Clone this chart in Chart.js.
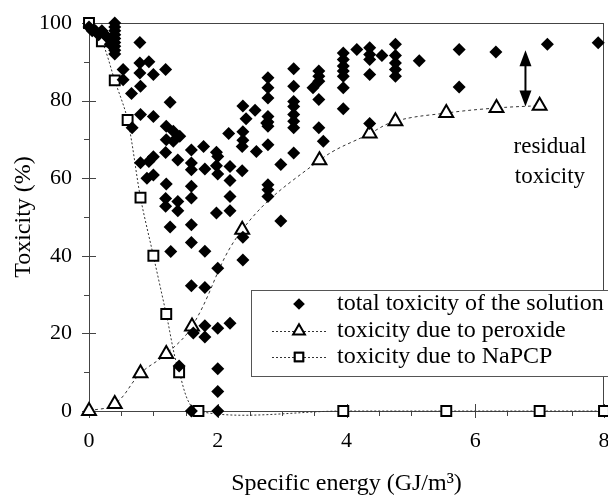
<!DOCTYPE html>
<html><head><meta charset="utf-8">
<script src="https://cdn.jsdelivr.net/npm/chart.js@4/dist/chart.umd.min.js"></script>
<style>html,body{margin:0;padding:0;background:#fff;overflow:hidden}#wrap{width:608px;height:498px;position:relative;overflow:hidden}</style>
</head><body><div id="wrap"><canvas id="c" width="614" height="498"></canvas></div>
<script>
// total toxicity of the solution (diamonds)
const totalX = [0,0.05,0.1,0.15,0.2,0.25,0.3,0.33,0.4,0.4,0.4,0.4,0.4,0.4,0.4,0.4,0.4,
  0.53,0.53,0.66,0.67,0.79,0.79,0.79,0.8,0.8,0.8,
  0.93,1.0,1.0,0.93,1.0,0.9,1.0,
  1.19,1.26,1.2,1.31,1.41,1.2,1.31,1.19,1.2,1.19,1.19,1.38,1.38,1.38,1.26,1.27,1.4,
  1.59,1.59,1.59,1.59,1.59,1.59,1.59,1.59,1.62,1.59,
  1.78,1.8,1.8,1.8,1.8,1.8,
  1.98,2.0,1.98,2.0,1.98,2.0,2.0,2.0,2.0,2.0,
  2.17,2.19,2.19,2.19,2.19,2.19,
  2.39,2.44,2.39,2.39,2.38,2.38,2.39,2.39,
  2.58,2.6,2.76,
  2.78,2.78,2.78,2.78,2.78,2.78,2.78,2.78,2.78,2.78,
  2.98,2.98,
  3.18,3.18,3.18,3.18,3.18,3.18,3.18,3.18,
  3.57,3.57,3.57,3.48,3.57,3.57,3.64,
  3.95,3.95,3.95,3.95,3.95,3.95,3.95,
  4.16,4.36,4.36,4.36,4.36,4.36,4.55,
  4.76,4.76,4.76,4.76,4.76,
  5.13,5.75,5.75,6.32,7.12,7.91];
const totalY = [99,98,98,97,98,97,96,94.5,100,99,98,97,96,95,94,93,92,
  88,85.4,81.8,73,95,89.7,87.1,83.7,76.4,64,
  90,86.7,75.9,64.3,65.5,60,60.8,
  88,79.6,73.4,72.1,70.8,69.9,69.5,66.6,58.5,54.8,52.8,64.7,54,51.6,47.4,41.1,11.6,
  67.3,63.9,62.2,57.9,54.9,48,43.4,32.3,20.1,0,
  68.2,62.4,41.2,31.8,22,19.1,
  66.7,65.6,63.2,61.1,51,36.8,21.3,10.9,5,0,
  71.5,63,59.4,55.3,51.6,22.6,
  78.6,75.3,72,69.8,68.2,61.9,44.8,38.9,
  77.5,66.9,74.2,
  85.9,83.3,80.7,75.9,74.5,73.4,68.6,58.3,57,55.3,
  63.5,49,
  88.2,83.7,79.8,78.5,76.4,74.7,73,66.5,
  87.6,86.3,85,83.3,80.3,73,69.5,
  92.3,90.6,88.9,87.6,86.3,83.3,77.9,
  93.2,93.6,91.9,90.6,86.7,74.1,91.6,
  94.5,91.6,89.7,88,86.3,
  90.3,93.2,83.5,92.5,94.5,94.9];
// toxicity due to peroxide (triangles)
const peroxideX = [0,0.4,0.8,1.2,1.6,2.38,3.58,4.36,4.76,5.55,6.33,7.0];
const peroxideY = [0,1.8,9.7,14.7,21.8,46.7,64.6,71.5,74.7,76.8,78.1,78.7];
// toxicity due to NaPCP (squares)
const napcpX = [0,0.2,0.4,0.6,0.8,1.0,1.2,1.4,1.7,3.95,5.55,7.0,8.0];
const napcpY = [100,95.3,85.2,75,55,40,25,10,0,0,0,0,0];

const xTickLabels = [0,2,4,6,8];
const yTickLabels = [0,20,40,60,80,100];
const seriesNames = ['total toxicity of the solution','toxicity due to peroxide','toxicity due to NaPCP'];
const noteLines = ['residual','toxicity'];
const arrowX = 6.78, arrowTop = 93, arrowBottom = 78.5;

const FONT = "'Liberation Serif','Times New Roman',serif";
const toPts = (xs, ys) => xs.map((x, i) => ({x, y: ys[i]}));

const framePlugin = {
  id: 'frame',
  beforeDatasetsDraw(chart) {
    const {ctx, chartArea: a, scales: {x, y}} = chart;
    ctx.save();
    ctx.strokeStyle = '#444';
    ctx.lineWidth = 1;
    ctx.strokeRect(Math.round(a.left) + 0.5, Math.round(a.top) + 0.5, Math.round(a.right - a.left) - 1, Math.round(a.bottom - a.top));
    ctx.beginPath();
    for (let v = 0; v <= 100; v += 10) {
      const py = Math.round(y.getPixelForValue(v)) + 0.5;
      const major = v % 20 === 0;
      ctx.moveTo(a.left - (major ? 7 : 5), py);
      ctx.lineTo(a.left + (major ? 7 : 0), py);
    }
    for (let v = 0; v <= 8; v += 0.5) {
      const px = Math.round(x.getPixelForValue(v)) + 0.5;
      const major = v % 2 === 0;
      ctx.moveTo(px, a.bottom - (major ? 7 : 0));
      ctx.lineTo(px, a.bottom + (major ? 7 : 5));
    }
    ctx.stroke();
    ctx.restore();
  },
  afterDatasetsDraw(chart) {
    const {ctx, scales: {x, y}} = chart;
    ctx.save();
    // double arrow
    const ax = x.getPixelForValue(arrowX);
    const y1 = y.getPixelForValue(arrowTop), y2 = y.getPixelForValue(arrowBottom);
    const hh = 16, hw = 6;
    ctx.fillStyle = '#000'; ctx.strokeStyle = '#000'; ctx.lineWidth = 2;
    ctx.beginPath(); ctx.moveTo(ax, y1 + hh - 2); ctx.lineTo(ax, y2 - hh + 2); ctx.stroke();
    ctx.beginPath(); ctx.moveTo(ax, y1); ctx.lineTo(ax - hw, y1 + hh); ctx.lineTo(ax + hw, y1 + hh); ctx.closePath(); ctx.fill();
    ctx.beginPath(); ctx.moveTo(ax, y2); ctx.lineTo(ax - hw, y2 - hh); ctx.lineTo(ax + hw, y2 - hh); ctx.closePath(); ctx.fill();
    // note text
    ctx.font = "23px " + FONT;
    ctx.textAlign = 'center'; ctx.textBaseline = 'middle';
    ctx.fillText(noteLines[0], x.getPixelForValue(7.16), y.getPixelForValue(68.1));
    ctx.fillText(noteLines[1], x.getPixelForValue(7.16), y.getPixelForValue(60.4));
    // legend
    const lx = 251.5, ly = 290.5, lw = 370, lh = 86;
    ctx.fillStyle = '#fff';
    ctx.fillRect(lx, ly, lw, lh);
    ctx.strokeStyle = '#555'; ctx.lineWidth = 1;
    ctx.strokeRect(lx, ly, lw, lh);
    const rows = [304, 331, 357];
    const mx = 299;
    chart.data.datasets.forEach((ds, i) => {
      const ry = rows[i];
      if (ds.showLine) {
        ctx.save();
        ctx.strokeStyle = '#333'; ctx.lineWidth = 1; ctx.setLineDash([2, 2]);
        ctx.beginPath(); ctx.moveTo(272, ry + 0.5); ctx.lineTo(326, ry + 0.5); ctx.stroke();
        ctx.restore();
      }
      Chart.helpers.drawPoint(ctx, {
        pointStyle: ds.pointStyle, radius: ds.pointRadius * (ds.showLine ? 0.85 : 0.9), borderWidth: ds.pointBorderWidth, rotation: 0
      }, mx, ry);
      ctx.fillStyle = ds.pointBackgroundColor; ctx.strokeStyle = ds.pointBorderColor; ctx.lineWidth = ds.pointBorderWidth;
      if (ds.pointBackgroundColor !== '#fff') ctx.fill();
      else { ctx.fill(); ctx.stroke(); }
      ctx.fillStyle = '#000';
      ctx.font = "24px " + FONT;
      ctx.textAlign = 'left'; ctx.textBaseline = 'middle';
      ctx.fillText(seriesNames[i], 337, ry);
    });
    ctx.restore();
  }
};

new Chart(document.getElementById('c'), {
  type: 'scatter',
  data: {
    datasets: [
      { label: seriesNames[0], data: toPts(totalX, totalY), pointStyle: 'rectRot', pointRadius: 6.5,
        pointBackgroundColor: '#000', pointBorderColor: '#000', pointBorderWidth: 0, showLine: false, clip: false },
      { label: seriesNames[1], data: toPts(peroxideX, peroxideY), pointStyle: 'triangle', pointRadius: 8,
        pointBackgroundColor: '#fff', pointBorderColor: '#000', pointBorderWidth: 2, showLine: true,
        borderColor: '#333', borderWidth: 1, borderDash: [3, 3], tension: 0.4, clip: false },
      { label: seriesNames[2], data: toPts(napcpX, napcpY), pointStyle: 'rect', pointRadius: 7,
        pointBackgroundColor: '#fff', pointBorderColor: '#000', pointBorderWidth: 2, showLine: true,
        borderColor: '#333', borderWidth: 1, borderDash: [2, 2], tension: 0.32, clip: false }
    ]
  },
  options: {
    responsive: false, animation: false,
    layout: { padding: { top: 23, right: 0, left: 0, bottom: 0 } },
    elements: { line: { capBezierPoints: false } },
    plugins: { legend: { display: false }, tooltip: { enabled: false } },
    scales: {
      x: {
        type: 'linear', min: 0, max: 8,
        afterBuildTicks: s => { s.ticks = xTickLabels.map(v => ({value: v})); },
        afterFit: s => { s.height = 87; s.paddingLeft = 0; s.paddingRight = 0; },
        grid: { display: false, drawTicks: false },
        border: { display: false },
        ticks: { padding: 17, color: '#000', font: { family: FONT, size: 22 }, maxRotation: 0 },
        title: { display: true, text: 'Specific energy (GJ/m³)', color: '#000', font: { family: FONT, size: 24 }, padding: { top: 0, bottom: 0 } }
      },
      y: {
        type: 'linear', min: 0, max: 100,
        afterBuildTicks: s => { s.ticks = yTickLabels.map(v => ({value: v})); },
        afterFit: s => { s.width = 89; s.paddingTop = 0; s.paddingBottom = 0; },
        grid: { display: false, drawTicks: false },
        border: { display: false },
        ticks: { padding: 17, color: '#000', font: { family: FONT, size: 22 } },
        title: { display: true, text: 'Toxicity (%)', color: '#000', font: { family: FONT, size: 24 }, padding: { top: 9, bottom: 0 } }
      }
    }
  },
  plugins: [framePlugin]
});
</script>
</body></html>
